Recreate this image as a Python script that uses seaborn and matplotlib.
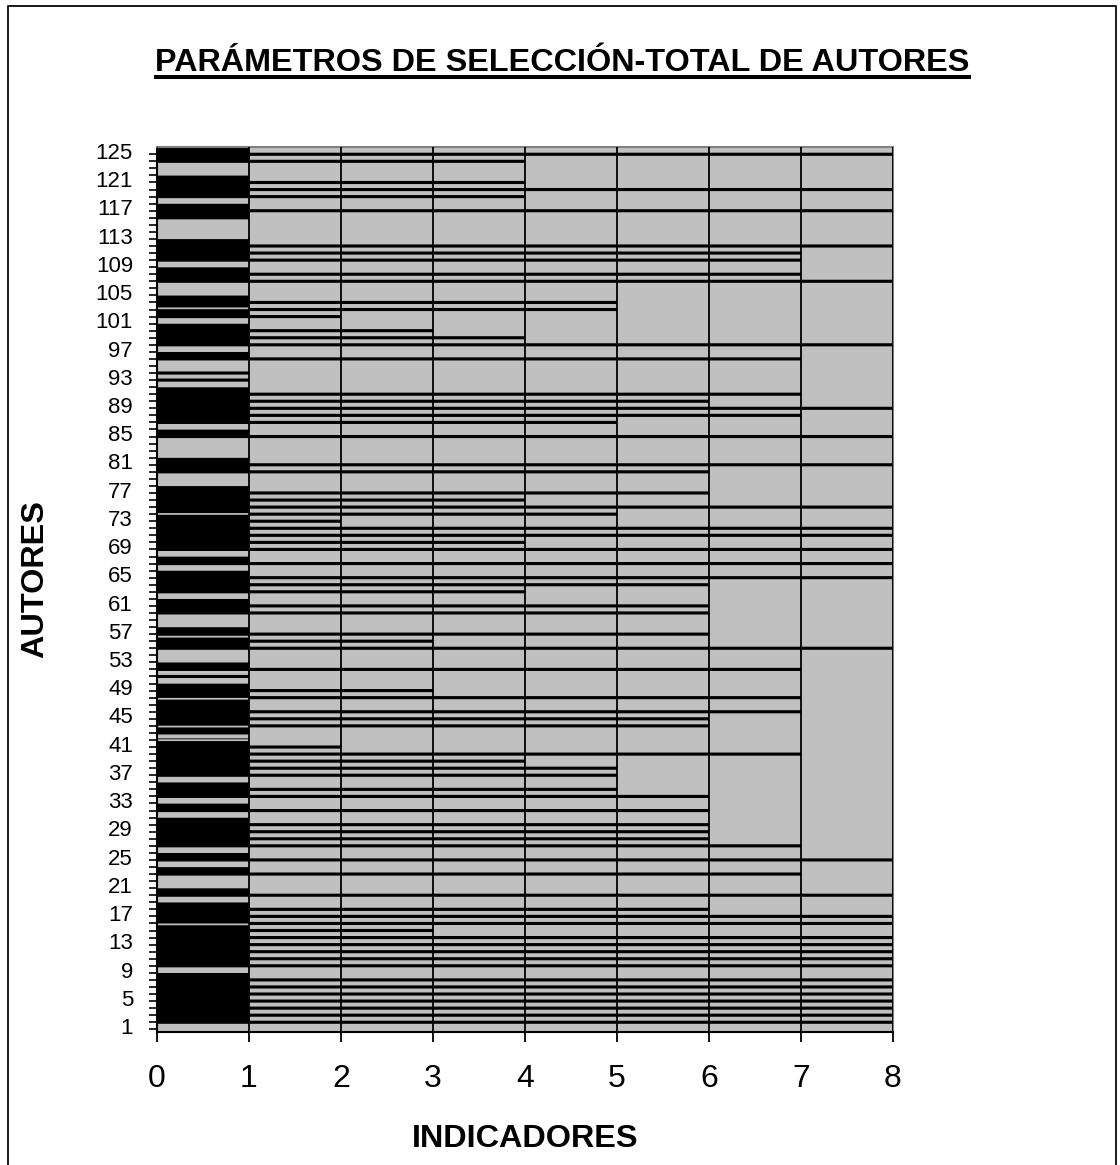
import matplotlib
matplotlib.use("Agg")

import numpy as np
import pandas as pd
import matplotlib.pyplot as plt
import seaborn as sns
from matplotlib.lines import Line2D

# ==========================================
# DATOS (autor 1 .. autor 125)
# ==========================================

autores = list(range(1, 126))

# numero de indicadores por autor, 0 = no seleccionado
indicadores = [
    0, 8, 8, 8, 8, 8, 8, 8, 0, 8,
    8, 8, 8, 8, 3, 8, 8, 6, 0, 8,
    0, 0, 7, 0, 8, 0, 7, 6, 6, 6,
    0, 6, 0, 6, 5, 0, 5, 5, 4, 7,
    2, 1, 1, 6, 6, 7, 1, 7, 3, 0,
    1, 7, 0, 0, 8, 3, 6, 0, 0, 6,
    6, 0, 4, 6, 8, 0, 8, 0, 8, 4,
    8, 8, 2, 5, 8, 4, 6, 0, 0, 6,
    8, 0, 0, 0, 8, 0, 5, 7, 8, 6,
    7, 0, 1, 1, 0, 7, 0, 8, 4, 3,
    0, 2, 5, 5, 0, 0, 8, 7, 0, 7,
    7, 8, 0, 0, 0, 1, 8, 0, 4, 8,
    4, 0, 0, 4, 8,
]

# autores con raya pero sin relleno negro en el primer tramo
sin_relleno = [42, 51, 93, 94]

# pequenos huecos claros dentro del bloque negro
huecos = [15.4, 41.5, 43.43, 47.37, 56.17, 73.56, 102.7]

marcas_x = list(range(0, 9))
marcas_y = list(range(1, 126, 4))

# ==========================================
# TABLAS
# ==========================================

df = pd.DataFrame({"autor": autores, "indicadores": indicadores})

# la raya cae en el borde inferior de cada fila
df["borde"] = df["autor"] - 0.47

rayas = df[df["indicadores"] > 0]
bloques = rayas[~rayas["autor"].isin(sin_relleno)]

# ==========================================
# FIGURA
# ==========================================

sns.set_theme(style="ticks")
plt.rcParams["font.family"] = ["Liberation Sans", "DejaVu Sans"]

W, H = 1120, 1165
fig = plt.figure(figsize=(W / 100, H / 100), dpi=100, facecolor="white")

ax = fig.add_axes([157 / W, 1 - 1031.7 / H, (893 - 157) / W, (1031.7 - 147) / H])
ax.set_facecolor("#c0c0c0")

sns.barplot(
    data=rayas,
    x="indicadores",
    y="borde",
    orient="y",
    native_scale=True,
    errorbar=None,
    color="black",
    saturation=1,
    width=0.44,
    linewidth=0,
    snap=False,
    ax=ax,
)

sns.barplot(
    x=np.ones(len(bloques)),
    y=bloques["autor"].values,
    orient="y",
    native_scale=True,
    errorbar=None,
    color="black",
    saturation=1,
    width=1.02,
    linewidth=0,
    snap=False,
    ax=ax,
)

sns.barplot(
    x=np.ones(len(huecos)),
    y=huecos,
    orient="y",
    native_scale=True,
    errorbar=None,
    color="#c0c0c0",
    saturation=1,
    width=0.25 / np.diff(huecos).min(),
    linewidth=0,
    snap=False,
    ax=ax,
)

ax.set_xlim(0, 8)
ax.set_ylim(0.19, 125.56)

ax.set_xticks(marcas_x)
ax.set_yticks(marcas_y)
ax.set_yticks(df["borde"].values, minor=True)
ax.set_yticklabels(marcas_y)

ax.tick_params(axis="x", which="major", direction="out", length=7.5, width=1.3,
               color="black", labelsize=23, labelcolor="black", pad=16)
ax.tick_params(axis="y", which="major", length=0, labelsize=16,
               labelcolor="black", pad=17.3)
ax.tick_params(axis="y", which="minor", direction="out", length=6, width=1.2,
               color="black")

ax.grid(axis="x", color="black", linewidth=1.3)
ax.grid(axis="y", visible=False)
ax.set_axisbelow(False)

for lado in ["left", "bottom"]:
    ax.spines[lado].set_color("black")
    ax.spines[lado].set_linewidth(1.5)
for lado in ["top", "right"]:
    ax.spines[lado].set_color("#808080")
    ax.spines[lado].set_linewidth(1.5)

ax.set_xlabel("")
ax.set_ylabel("")

# ==========================================
# TEXTOS
# ==========================================

fig.text(562.5 / W, 1 - 71 / H, "PARÁMETROS DE SELECCIÓN-TOTAL DE AUTORES",
         ha="center", va="baseline", fontsize=23.3, fontweight="bold", color="black")
fig.add_artist(Line2D([154 / W, 971 / W], [1 - 77 / H, 1 - 77 / H],
                      color="black", linewidth=2.9, solid_capstyle="butt"))

fig.text(35 / W, 1 - 579 / H, "AUTORES", rotation=90, ha="center", va="center",
         fontsize=23.3, fontweight="bold", color="black")
fig.text(525 / W, 1 - 1139 / H, "INDICADORES", ha="center", va="center",
         fontsize=23.3, fontweight="bold", color="black")

# marco exterior del grafico
fig.add_artist(Line2D([8 / W, 8 / W, 1116 / W, 1116 / W],
                      [0, 1 - 6 / H, 1 - 6 / H, 0],
                      color="#1a1a1a", linewidth=1.4))

fig.savefig("out.png", dpi=100)
